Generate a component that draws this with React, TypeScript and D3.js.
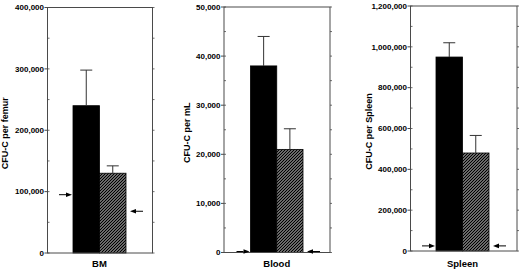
import React from "react";
import * as d3 from "d3";

// ---- data ----
const groups = ["Control", "Treated"];
const panelNames = ["BM", "Blood", "Spleen"];
const yLabels = ["CFU-C per femur", "CFU-C per mL", "CFU-C per Spleen"];
const yMax = [400000, 50000, 1200000];
const yStep = [100000, 10000, 200000];
const bmMeans = [240000, 130000];
const bmErrTops = [298000, 142000];
const bmArrows = [95000, 68000];
const bloodMeans = [38000, 21000];
const bloodErrTops = [44000, 25200];
const bloodArrows = [0, 0];
const spleenMeans = [950000, 480000];
const spleenErrTops = [1020000, 566000];
const spleenArrows = [25000, 25000];

const means = [bmMeans, bloodMeans, spleenMeans];
const errTops = [bmErrTops, bloodErrTops, spleenErrTops];
const arrows = [bmArrows, bloodArrows, spleenArrows];

// ---- layout ----
const layouts = [
  { x0: 47.5, x1: 152.5, top: 7.5, bottom: 253, bar0: 73, bar1: 126, ylx: 5 },
  { x0: 224, x1: 330, top: 7, bottom: 252.5, bar0: 250.5, bar1: 303, ylx: 187 },
  { x0: 410.5, x1: 517, top: 6, bottom: 251, bar0: 436, bar1: 489, ylx: 369 },
];

const FONT = "'Liberation Sans', Arial, Helvetica, sans-serif";
const AXIS = "#4a4a4a";
const fmt = d3.format(",");

function Arrow({ tip, y, dir }: { tip: number; y: number; dir: number }) {
  const len = 13;
  const head = 6;
  const tail = tip - dir * len;
  const base = tip - dir * head;
  return (
    <g>
      <line x1={tail} y1={y} x2={base} y2={y} stroke="#000" strokeWidth={1} />
      <path d={`M${tip},${y} L${base},${y - 2.3} L${base},${y + 2.3} Z`} fill="#000" />
    </g>
  );
}

function Panel({ i }: { i: number }) {
  const L = layouts[i];
  const y = d3.scaleLinear().domain([0, yMax[i]]).range([L.bottom, L.top]);
  const x = d3.scaleBand<string>().domain(groups).range([L.bar0, L.bar1]).padding(0);
  const majors = d3.range(0, yMax[i] + 1, yStep[i]);
  const minors = d3.range(0, yMax[i] + 1, yStep[i] / 2);
  const bw = x.bandwidth();
  const cx = (L.bar0 + L.bar1) / 2;
  return (
    <g>
      {groups.map((g, k) => (
        <rect
          key={g}
          x={x(g)!}
          y={y(means[i][k])}
          width={bw}
          height={L.bottom - y(means[i][k])}
          fill={k === 0 ? "#000" : "url(#hatch)"}
          stroke="#000"
          strokeWidth={0.8}
        />
      ))}
      {groups.map((g, k) => {
        const c = x(g)! + bw / 2;
        return (
          <g key={"e" + g} stroke="#333" strokeWidth={1}>
            <line x1={c} x2={c} y1={y(means[i][k])} y2={y(errTops[i][k])} />
            <line x1={c - 6} x2={c + 6} y1={y(errTops[i][k])} y2={y(errTops[i][k])} />
          </g>
        );
      })}
      <rect x={L.x0} y={L.top} width={L.x1 - L.x0} height={L.bottom - L.top} fill="none" stroke={AXIS} strokeWidth={1} />
      {minors.map((v) => (
        <g key={"m" + v} stroke={AXIS} strokeWidth={0.8}>
          <line x1={L.x0} x2={L.x0 + 2} y1={y(v)} y2={y(v)} />
          <line x1={L.x1} x2={L.x1 + 2} y1={y(v)} y2={y(v)} />
        </g>
      ))}
      {majors.map((v) => (
        <g key={"M" + v}>
          <line x1={L.x0 - 3} x2={L.x0} y1={y(v)} y2={y(v)} stroke={AXIS} strokeWidth={1} />
          <text
            x={L.x0 - 3.5}
            y={y(v)}
            dy="0.35em"
            textAnchor="end"
            fontFamily={FONT}
            fontWeight="bold"
            fontSize={8}
            fill="#000"
          >
            {fmt(v)}
          </text>
        </g>
      ))}
      <Arrow tip={L.bar0 - 1} y={y(arrows[i][0]) - (arrows[i][0] === 0 ? 1 : 0)} dir={1} />
      <Arrow tip={L.bar1 + 4} y={y(arrows[i][1]) - (arrows[i][1] === 0 ? 1 : 0)} dir={-1} />
      <text
        x={cx}
        y={267}
        textAnchor="middle"
        fontFamily={FONT}
        fontWeight="bold"
        fontSize={9.5}
        fill="#000"
      >
        {panelNames[i]}
      </text>
      <text
        transform={`translate(${L.ylx},${(L.top + L.bottom) / 2 + 3}) rotate(-90)`}
        dy="0.35em"
        textAnchor="middle"
        fontFamily={FONT}
        fontWeight="bold"
        fontSize={9}
        fill="#000"
      >
        {yLabels[i]}
      </text>
    </g>
  );
}

export default function App() {
  return (
    <svg
      width={520}
      height={269}
      style={{ position: "absolute", left: 0, top: 0, background: "#fff" }}
    >
      <defs>
        <pattern id="hatch" patternUnits="userSpaceOnUse" width={3} height={3}>
          <rect width={3} height={3} fill="#6a6a6a" />
          <path d="M-0.75,0.75 l1.5,-1.5 M0,3 l3,-3 M2.25,3.75 l1.5,-1.5" stroke="#000" strokeWidth={1} />
        </pattern>
      </defs>
      <rect width={520} height={269} fill="#fff" />
      {[0, 1, 2].map((i) => (
        <Panel key={i} i={i} />
      ))}
    </svg>
  );
}
